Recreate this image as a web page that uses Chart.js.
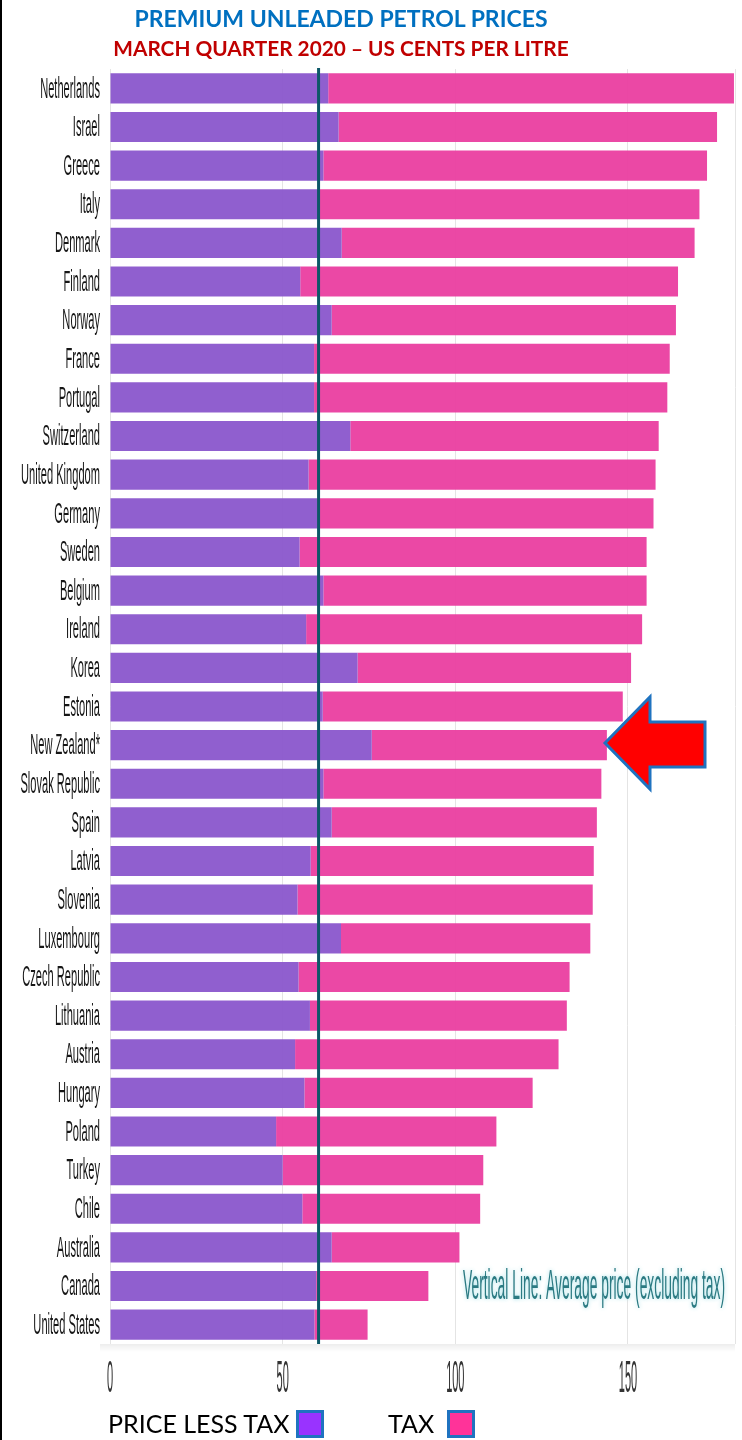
<!DOCTYPE html>
<html>
<head>
<meta charset="utf-8">
<title>Premium Unleaded Petrol Prices</title>
<script src="https://cdn.jsdelivr.net/npm/chart.js@4.4.1/dist/chart.umd.min.js"></script>
<style>
    html, body { margin: 0; padding: 0; background: #fff; }
    #page { position: relative; width: 742px; height: 1440px; overflow: hidden; background: #fff; }
    #edge { position: absolute; left: 0; top: 0; width: 2px; height: 1440px; background: #000; }
    .title { position: absolute; left: 0; width: 682px; text-align: center; font-family: Lato, "Open Sans", sans-serif; font-weight: bold; white-space: nowrap; }
    #title1 { top: 4px; font-size: 23px; color: #0070c0; }
    #title2 { top: 35px; font-size: 20.8px; color: #c00000; }
    #chartBox { position: absolute; left: 0; top: 0; width: 742px; height: 1400px; }
    #arrow { position: absolute; left: 0; top: 0; }
    .legend { position: absolute; top: 1408px; font-family: Lato, "Open Sans", sans-serif; font-size: 25px; color: #000; white-space: nowrap; }
    .swatch { position: absolute; top: 1410px; width: 22px; height: 22px; border: 3px solid #1f73c0; }
</style>
</head>
<body>
<div id="page">
    <div id="chartBox"><canvas id="petrolChart"></canvas></div>
    <div id="edge"></div>
    <div class="title" id="title1">PREMIUM UNLEADED PETROL PRICES</div>
    <div class="title" id="title2">MARCH QUARTER 2020 – US CENTS PER LITRE</div>
    <svg id="arrow" width="742" height="1440">
        <polygon points="605,743 650,697 650,722 705,722 705,767 650,767 650,789" fill="#ff0000" stroke="#1f73c0" stroke-width="3" stroke-linejoin="miter"/>
    </svg>
    <div class="legend" style="left:108px;">PRICE LESS TAX</div>
    <div class="swatch" style="left:296px; background:#9933ff;"></div>
    <div class="legend" style="left:388px;">TAX</div>
    <div class="swatch" style="left:447px; background:#ff3399;"></div>
</div>
<script>
(function() {
    'use strict';

    var countries = [
        'Netherlands', 'Israel', 'Greece', 'Italy', 'Denmark', 'Finland', 'Norway',
        'France', 'Portugal', 'Switzerland', 'United Kingdom', 'Germany', 'Sweden',
        'Belgium', 'Ireland', 'Korea', 'Estonia', 'New Zealand*', 'Slovak Republic',
        'Spain', 'Latvia', 'Slovenia', 'Luxembourg', 'Czech Republic', 'Lithuania',
        'Austria', 'Hungary', 'Poland', 'Turkey', 'Chile', 'Australia', 'Canada',
        'United States'
    ];

    // US cents per litre, March quarter 2020
    var priceLessTax = [
        63.2, 66.2, 61.8, 60.5, 67.1, 55.1, 64.2,
        59.1, 59.1, 69.6, 57.5, 60.0, 54.9,
        61.8, 56.8, 71.7, 61.6, 75.8, 61.8,
        64.2, 58.1, 54.3, 66.9, 54.6, 57.9,
        53.6, 56.3, 48.1, 50.0, 55.7, 64.2, 59.7,
        59.2
    ];

    var tax = [
        117.5, 109.6, 111.1, 110.2, 102.2, 109.4, 99.7,
        103.0, 102.3, 89.3, 100.5, 97.4, 100.5,
        93.6, 97.3, 79.2, 86.9, 68.1, 80.5,
        76.8, 82.0, 85.5, 72.2, 78.5, 74.4,
        76.3, 66.1, 63.8, 58.1, 51.5, 37.0, 32.5,
        15.4
    ];

    var xTicks = [0, 50, 100, 150];
    var averagePriceLessTax = 60.4;
    var noteText = 'Vertical Line: Average price (excluding tax)';

    // condensed text: draw at full height, squeeze horizontally
    function squeezedText(ctx, text, x, y, size, sx, align) {
        ctx.save();
        ctx.font = size + 'px "Liberation Sans", Arial, sans-serif';
        ctx.textBaseline = 'middle';
        ctx.textAlign = align;
        ctx.translate(x, y);
        ctx.scale(sx, 1);
        ctx.fillText(text, 0, 0);
        ctx.restore();
    }

    var labelPlugin = {
        id: 'labelPlugin',
        afterDatasetsDraw: function(chart) {
            var ctx = chart.ctx;
            var xs = chart.scales.x;
            var area = chart.chartArea;
            var ax = xs.getPixelForValue(averagePriceLessTax);
            ctx.save();
            ctx.strokeStyle = '#0d5868';
            ctx.lineWidth = 3;
            ctx.beginPath();
            ctx.moveTo(ax, area.top - 1);
            ctx.lineTo(ax, area.bottom);
            ctx.stroke();
            ctx.restore();
        },
        afterDraw: function(chart) {
            var ctx = chart.ctx;
            var xs = chart.scales.x;
            var ys = chart.scales.y;
            var area = chart.chartArea;

            ctx.fillStyle = '#161616';
            countries.forEach(function(name, i) {
                squeezedText(ctx, name, area.left - 10, ys.getPixelForTick(i) + 1, 30, 0.37, 'right');
            });

            ctx.fillStyle = '#333';
            xTicks.forEach(function(v) {
                squeezedText(ctx, String(v), xs.getPixelForValue(v), area.bottom + 36, 44, 0.25, 'center');
            });

            // shadow strip under the plot
            var grad = ctx.createLinearGradient(0, area.bottom, 0, area.bottom + 8);
            grad.addColorStop(0, 'rgba(0,0,0,0.07)');
            grad.addColorStop(1, 'rgba(0,0,0,0)');
            ctx.fillStyle = grad;
            ctx.fillRect(area.left - 10, area.bottom, area.right - area.left + 10, 8);

            // note beside the Canada bar
            ctx.save();
            ctx.font = '42px "Liberation Sans", Arial, sans-serif';
            var w = ctx.measureText(noteText).width;
            ctx.restore();
            ctx.save();
            ctx.fillStyle = '#2b7a82';
            ctx.shadowColor = 'rgba(140,215,225,0.9)';
            ctx.shadowBlur = 4;
            squeezedText(ctx, noteText, area.right - 272, ys.getPixelForTick(countries.length - 2) + 1, 42, 262 / w, 'left');
            ctx.restore();
        }
    };

    var canvas = document.getElementById('petrolChart');
    new Chart(canvas.getContext('2d'), {
        type: 'bar',
        data: {
            labels: countries,
            datasets: [{
                label: 'PRICE LESS TAX',
                data: priceLessTax,
                backgroundColor: 'rgba(138,86,204,0.95)',
                borderWidth: 0,
                barPercentage: 0.78,
                categoryPercentage: 1
            }, {
                label: 'TAX',
                data: tax,
                backgroundColor: 'rgba(234,62,160,0.95)',
                borderWidth: 0,
                barPercentage: 0.78,
                categoryPercentage: 1
            }]
        },
        options: {
            indexAxis: 'y',
            responsive: true,
            maintainAspectRatio: false,
            animation: false,
            layout: { padding: { top: 69, right: 7, left: 0, bottom: 0 } },
            plugins: {
                legend: { display: false },
                tooltip: { enabled: false }
            },
            scales: {
                x: {
                    stacked: true,
                    min: 0,
                    max: 181,
                    ticks: { display: false, stepSize: 50 },
                    grid: { color: '#e4e4e4', drawTicks: false },
                    border: { display: false },
                    afterFit: function(scale) { scale.height = 56; }
                },
                y: {
                    stacked: true,
                    ticks: { display: false },
                    grid: { display: false },
                    border: { display: false },
                    afterFit: function(scale) { scale.width = 110; }
                }
            }
        },
        plugins: [labelPlugin]
    });
})();
</script>
</body>
</html>
